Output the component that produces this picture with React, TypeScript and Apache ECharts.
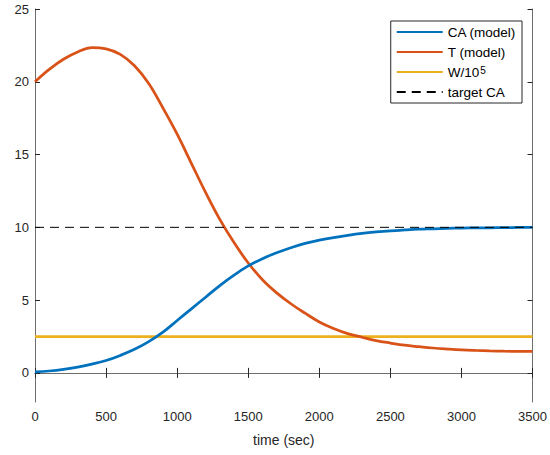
import React, { useEffect, useRef } from "react";
import * as echarts from "echarts";

const times = [0, 100, 200, 300, 400, 500, 600, 700, 800, 900, 1000, 1100, 1200, 1300, 1400, 1500, 1600, 1700, 1800, 1900, 2000, 2100, 2200, 2300, 2400, 2500, 2600, 2700, 2800, 2900, 3000, 3100, 3200, 3300, 3400, 3500];
const caModel = [0.07, 0.13, 0.24, 0.4, 0.6, 0.85, 1.2, 1.62, 2.15, 2.8, 3.6, 4.4, 5.2, 6.0, 6.72, 7.35, 7.85, 8.25, 8.6, 8.9, 9.12, 9.3, 9.45, 9.58, 9.68, 9.76, 9.82, 9.87, 9.9, 9.93, 9.95, 9.96, 9.97, 9.98, 9.99, 10.0];
const tModel = [20.0, 20.85, 21.55, 22.05, 22.34, 22.26, 21.88, 21.1, 19.88, 18.2, 16.4, 14.4, 12.4, 10.55, 8.95, 7.55, 6.4, 5.5, 4.75, 4.1, 3.5, 3.05, 2.7, 2.45, 2.22, 2.05, 1.9, 1.8, 1.71, 1.64, 1.58, 1.54, 1.51, 1.49, 1.48, 1.47];
const wScaled = 2.5;
const targetCA = 10;
const xTicks = { min: 0, max: 3500, interval: 500 };
const yTicks = [0, 5, 10, 15, 20, 25];
const yRange = { min: -2, max: 25 };
const legendNames = ["CA (model)", "T (model)", "W/10^5", "target CA"];

const FONT = "'Liberation Sans', Arial, Helvetica, sans-serif";
const TEXT = "#262626";
const AXIS = "#6e6e6e";

export default function App() {
  const ref = useRef<HTMLDivElement>(null);
  useEffect(() => {
    if (!ref.current) return;
    const chart = echarts.init(ref.current, undefined, { renderer: "svg" });
    const pair = (vals: number[]) => times.map((t, i) => [t, vals[i]]);
    const constLine = (v: number) => [[xTicks.min, v], [xTicks.max, v]];
    const xBase = {
      type: "value" as const,
      min: xTicks.min,
      max: xTicks.max,
      interval: xTicks.interval,
      splitLine: { show: false },
      axisLine: { show: true, lineStyle: { color: AXIS, width: 1 } },
      axisTick: { show: true, inside: true, length: 5, lineStyle: { color: TEXT } },
    };
    const yBase = {
      type: "value" as const,
      min: yRange.min,
      max: yRange.max,
      splitLine: { show: false },
      axisLine: { show: true, onZero: false, lineStyle: { color: AXIS, width: 1 } },
      axisTick: { show: true, inside: true, length: 5, customValues: yTicks, lineStyle: { color: TEXT } },
    };
    const lineSeries = (name: string, data: number[][], color: string, width: number, z: number, extra: any = {}) => ({
      name,
      type: "line",
      data,
      showSymbol: false,
      symbol: "none",
      lineStyle: { color, width, ...(extra.lineStyle || {}) },
      itemStyle: { color },
      z,
      ...(extra.smooth ? { smooth: extra.smooth } : {}),
    });
    chart.setOption({
      animation: false,
      backgroundColor: "#fff",
      textStyle: { fontFamily: FONT },
      grid: { left: 35, right: 16, top: 9, bottom: 53 },
      legend: {
        orient: "vertical",
        right: 28,
        top: 21,
        backgroundColor: "#fff",
        borderColor: TEXT,
        borderWidth: 1,
        padding: [4, 6, 4, 5],
        itemWidth: 46,
        itemHeight: 14,
        itemGap: 6,
        itemStyle: { opacity: 0 },
        data: legendNames,
        formatter: (name: string) => (name === legendNames[2] ? "{n|W/10}{s|5}" : name),
        textStyle: {
          fontSize: 13.5,
          color: "#000",
          fontFamily: FONT,
          rich: {
            n: { fontSize: 13.5, color: "#000", fontFamily: FONT },
            s: { fontSize: 10, color: "#000", fontFamily: FONT, lineHeight: 5, verticalAlign: "top", padding: [0, 0, 0, 1] },
          },
        },
      },
      xAxis: [
        {
          ...xBase,
          position: "bottom",
          name: "time (sec)",
          nameLocation: "middle",
          nameGap: 31,
          nameTextStyle: { fontSize: 14, color: TEXT, fontFamily: FONT },
          axisLabel: { fontSize: 13, color: TEXT, margin: 8, fontFamily: FONT, formatter: (v: number) => String(v) },
        },
        { ...xBase, position: "top", axisLabel: { show: false } },
      ],
      yAxis: [
        {
          ...yBase,
          position: "left",
          axisLabel: { fontSize: 13, color: TEXT, margin: 6, customValues: yTicks, fontFamily: FONT, formatter: (v: number) => String(v) },
        },
        { ...yBase, position: "right", axisLabel: { show: false } },
      ],
      series: [
        lineSeries(legendNames[0], pair(caModel), "#0072BD", 2.75, 4, { smooth: 0.4 }),
        lineSeries(legendNames[1], pair(tModel), "#D95319", 2.75, 3, { smooth: 0.4 }),
        lineSeries(legendNames[2], constLine(wScaled), "#EDB120", 2.75, 2),
        lineSeries(legendNames[3], constLine(targetCA), "#000", 1, 5, { lineStyle: { type: [9, 6] } }),
      ],
    });
    return () => chart.dispose();
  }, []);
  return <div ref={ref} style={{ width: 550, height: 455, position: "absolute", left: 0, top: 0 }} />;
}
